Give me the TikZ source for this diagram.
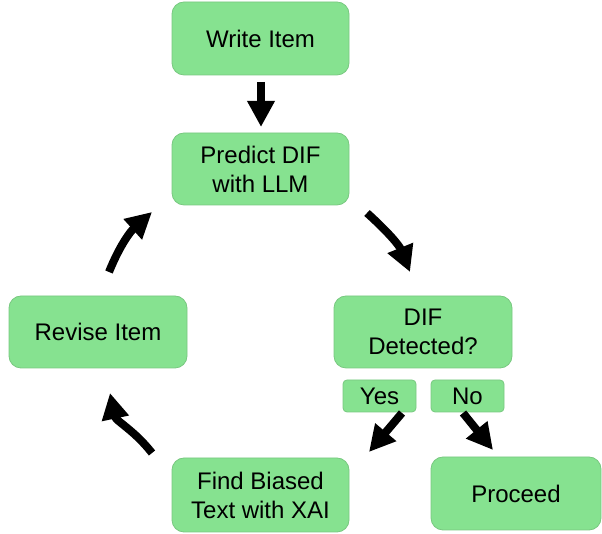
\documentclass[tikz,border=0pt]{standalone}
\usepackage{fontspec}
\setmainfont{Liberation Sans}
\usetikzlibrary{arrows.meta}
\definecolor{boxgreen}{RGB}{134,226,144}
\definecolor{boxedge}{RGB}{120,200,128}
\begin{document}
\begin{tikzpicture}[x=1pt,y=1pt,
  box/.style={draw=boxedge, line width=0.8pt, fill=boxgreen, rounded corners=12pt,
    align=center, inner sep=0pt, font=\fontsize{24}{29}\selectfont},
  tag/.style={draw=boxedge, line width=0.8pt, fill=boxgreen, rounded corners=4pt,
    align=center, inner sep=0pt, font=\fontsize{24}{29}\selectfont},
  flow/.style={line width=8pt, -{Triangle[width=26pt,length=26pt]}}]
\useasboundingbox (0,0) rectangle (602,534);
\node[box, minimum width=177pt, minimum height=73pt] (write) at (260.5,495.5) {Write Item};
\node[box, minimum width=177pt, minimum height=72pt] (predict) at (260.5,365) {Predict DIF\\with LLM};
\node[box, minimum width=178pt, minimum height=72pt] (dif) at (423,202) {DIF\\Detected?};
\node[box, minimum width=178pt, minimum height=72pt] (revise) at (98,202) {Revise Item};
\node[box, minimum width=177pt, minimum height=74pt] (find) at (260.5,39) {Find Biased\\Text with XAI};
\node[box, minimum width=170pt, minimum height=73pt] (proceed) at (516,40.5) {Proceed};
\node[tag, minimum width=73pt, minimum height=32pt] (yes) at (379.5,138) {Yes};
\node[tag, minimum width=73pt, minimum height=32pt] (no) at (467.5,138) {No};
\coordinate (a1s) at (261,452);
\coordinate (a1e) at (261,407);
\coordinate (a2s) at (367,321);
\coordinate (a2e) at (410,262);
\coordinate (a3s) at (109,262);
\coordinate (a3e) at (152,322);
\coordinate (a4s) at (152,81);
\coordinate (a4e) at (110,141);
\coordinate (a5s) at (402,121);
\coordinate (a5e) at (369,82);
\coordinate (a6s) at (463,121);
\coordinate (a6e) at (493,84);
\draw[flow] (a1s) -- (a1e);
\draw[flow] (a2s) to[out=-42,in=112] (a2e);
\draw[flow] (a3s) to[out=68,in=222] (a3e);
\draw[flow] (a4s) to[out=128,in=-78] (a4e);
\draw[flow] (a5s) -- (a5e);
\draw[flow] (a6s) -- (a6e);
\end{tikzpicture}
\end{document}
